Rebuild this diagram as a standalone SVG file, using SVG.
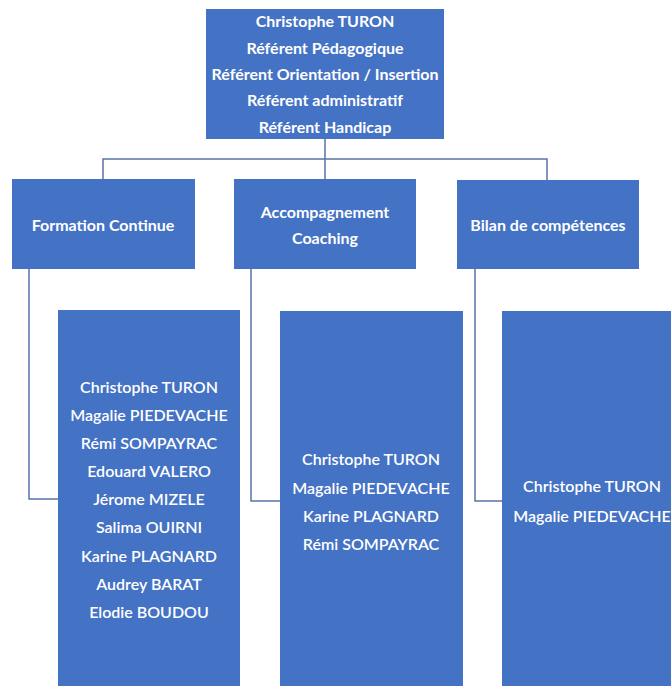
<svg xmlns="http://www.w3.org/2000/svg" width="671" height="686" viewBox="0 0 671 686">
<style>
.box{fill:#4472C4;}
.ln{fill:none;stroke:#5A74A8;stroke-width:1.5;}
.t{font-family:Lato,"Open Sans",sans-serif;fill:#fff;text-anchor:middle;dominant-baseline:central;}
.b{font-weight:bold;font-size:16px;}
.h{font-weight:bold;font-size:16px;}
.n{font-weight:600;font-size:16px;}
</style>
<rect width="671" height="686" fill="#fff"/>
<g id="connectors">
<path class="ln" d="M325,139 V159 M103,179 V159 H547 V180 M325,159 V180"/>
<path class="ln" d="M29,269 V499 H58"/>
<path class="ln" d="M251,269 V501 H280"/>
<path class="ln" d="M475,269 V501 H502"/>
</g>
<g id="root">
<rect class="box" x="206" y="9" width="238" height="130"/>
<text class="t b" x="325" y="20">Christophe TURON</text>
<text class="t b" x="325" y="47">Référent Pédagogique</text>
<text class="t b" x="325" y="73">Référent Orientation / Insertion</text>
<text class="t b" x="325" y="99">Référent administratif</text>
<text class="t b" x="325" y="126">Référent Handicap</text>
</g>
<g id="formation">
<rect class="box" x="12" y="179" width="183" height="90"/>
<text class="t h" x="103" y="224">Formation Continue</text>
</g>
<g id="accompagnement">
<rect class="box" x="234" y="179" width="182" height="90"/>
<text class="t h" x="325" y="211">Accompagnement</text>
<text class="t h" x="325" y="237">Coaching</text>
</g>
<g id="bilan">
<rect class="box" x="457" y="180" width="182" height="89"/>
<text class="t h" x="548" y="224">Bilan de compétences</text>
</g>
<g id="list-formation">
<rect class="box" x="58" y="310" width="182" height="380"/>
<text class="t n" x="149" y="386">Christophe TURON</text>
<text class="t n" x="149" y="414">Magalie PIEDEVACHE</text>
<text class="t n" x="149" y="442">Rémi SOMPAYRAC</text>
<text class="t n" x="149" y="470">Edouard VALERO</text>
<text class="t n" x="149" y="498">Jérome MIZELE</text>
<text class="t n" x="149" y="526">Salima OUIRNI</text>
<text class="t n" x="149" y="555">Karine PLAGNARD</text>
<text class="t n" x="149" y="583">Audrey BARAT</text>
<text class="t n" x="149" y="611">Elodie BOUDOU</text>
</g>
<g id="list-accompagnement">
<rect class="box" x="280" y="311" width="183" height="380"/>
<text class="t n" x="371" y="458">Christophe TURON</text>
<text class="t n" x="371" y="487">Magalie PIEDEVACHE</text>
<text class="t n" x="371" y="515">Karine PLAGNARD</text>
<text class="t n" x="371" y="543">Rémi SOMPAYRAC</text>
</g>
<g id="list-bilan">
<rect class="box" x="502" y="311" width="190" height="380"/>
<text class="t n" x="592" y="485">Christophe TURON</text>
<text class="t n" x="592" y="515">Magalie PIEDEVACHE</text>
</g>
</svg>
